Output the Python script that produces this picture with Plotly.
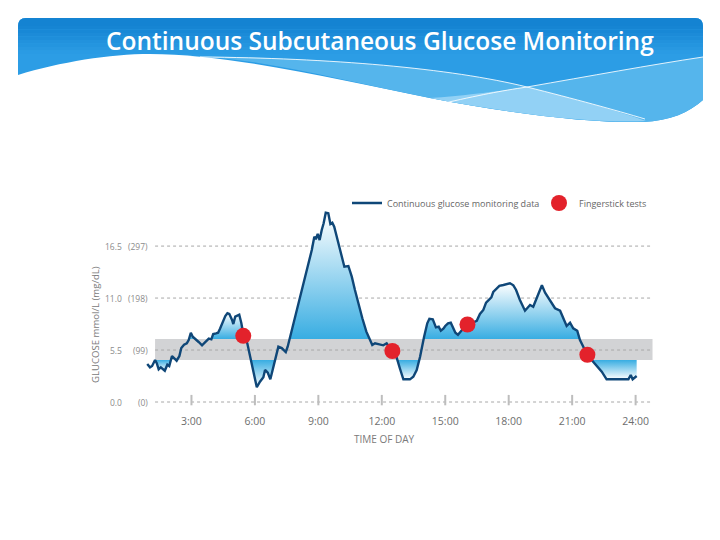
import plotly.graph_objects as go

# ---------------- data ----------------
hours = [0.91,1.04,1.14,1.28,1.36,1.45,1.55,1.64,1.74,1.86,
         1.95,2.08,2.21,2.30,2.43,2.52,2.65,2.78,2.87,2.97,
         3.06,3.18,3.34,3.50,3.59,3.72,3.82,3.94,4.03,4.16,
         4.26,4.35,4.44,4.51,4.60,4.70,4.79,4.92,4.98,5.07,
         5.17,5.26,5.36,5.45,5.64,5.80,5.92,6.09,6.24,6.40,
         6.48,6.61,6.73,6.82,6.95,7.11,7.27,7.46,7.55,7.71,
         7.90,8.09,8.29,8.50,8.69,8.81,8.88,8.97,9.06,9.16,
         9.25,9.35,9.47,9.57,9.66,9.75,9.92,10.07,10.23,10.42,
         10.58,10.73,10.89,11.08,11.27,11.44,11.55,11.68,11.87,12.07,
         12.23,12.50,12.70,12.86,13.02,13.33,13.49,13.65,13.81,14.00,
         14.15,14.25,14.41,14.56,14.69,14.79,14.91,15.00,15.13,15.26,
         15.35,15.48,15.60,15.79,16.04,16.49,16.64,16.80,16.93,17.05,
         17.18,17.27,17.43,17.56,17.75,18.06,18.22,18.35,18.53,18.77,
         19.01,19.16,19.35,19.57,19.72,19.95,20.19,20.43,20.62,20.74,
         20.90,21.05,21.24,21.37,21.72,22.08,22.40,22.63,23.66,23.77,
         23.86,24.05]
glucose = [4.02,3.67,3.81,4.44,4.10,3.46,3.67,3.52,3.31,3.95,
           3.81,4.87,4.58,4.37,4.87,5.71,6.06,6.21,6.56,7.33,
           6.91,6.63,6.35,6.00,6.21,6.49,6.70,6.63,7.20,7.27,
           7.33,7.76,8.25,8.75,9.10,9.39,9.31,8.68,8.25,9.03,
           9.17,9.24,8.33,7.20,6.21,4.44,3.04,1.56,2.15,2.61,
           3.39,3.10,2.40,3.17,4.52,5.85,5.71,5.29,5.85,7.27,
           9.03,10.79,12.56,14.32,16.08,17.49,17.22,17.78,17.14,18.20,
           18.91,20.03,19.97,18.84,18.97,18.55,17.14,15.90,14.32,14.39,
           13.26,11.85,10.44,8.86,7.44,6.56,6.03,6.21,6.14,6.00,
           6.21,5.37,4.73,3.52,2.40,2.40,2.68,3.39,4.79,6.91,
           8.33,8.81,8.75,7.90,7.97,7.54,7.76,8.04,8.33,8.39,
           7.90,7.33,7.12,7.62,8.15,8.60,9.31,9.74,10.51,10.79,
           11.08,11.64,11.99,12.28,12.38,12.56,12.35,11.85,10.79,9.66,
           10.26,10.08,11.14,12.35,11.57,10.79,9.92,9.66,8.68,8.04,
           8.39,7.80,7.54,6.56,4.97,4.10,3.21,2.40,2.40,2.86,
           2.40,2.75]

fingerstick_hours = [5.45, 12.50, 16.05, 21.72]
fingerstick_glucose = [7.0, 5.4, 8.2, 5.0]

target_low = 4.44
target_high = 6.67
target_start = 1.28
target_end = 24.8

ytick_vals = [0, 5.5, 11.0, 16.5]
ytick_mmol = ["0.0", "5.5", "11.0", "16.5"]
ytick_mgdl = ["(0)", "(99)", "(198)", "(297)"]

xtick_vals = [3, 6, 9, 12, 15, 18, 21, 24]
xtick_text = ["3:00", "6:00", "9:00", "12:00", "15:00", "18:00", "21:00", "24:00"]

# ---------------- geometry (screen pixels; page body has an 8px offset) ----------------
W, H = 720, 540
OFF = 8
X0PX, XPPH = 128.0, 21.15     # screen pixel of hour 0, pixels per hour
Y0PX, YPPV = 402.0, 9.45      # screen pixel of glucose 0, pixels per mmol/L
L, R, T, B = 136, 661, 203, 413   # plot area in screen pixels
xr = [(L - X0PX) / XPPH, (R - X0PX) / XPPH]
yr = [(Y0PX - B) / YPPV, (Y0PX - T) / YPPV]


def xp(px):
    return (px - L) / (R - L)


def yp(py):
    return (B - py) / (B - T)


def path(cmds):
    s = ""
    for c, pts in cmds:
        s += c + " ".join(f"{xp(x):.5f},{yp(y):.5f}" for x, y in pts) + " "
    return s.strip()


BLUE = "#38ade2"
WHITE = "#ffffff"
LINE = "#0f4778"
RED = "#e3222b"
GREY_TXT = "#7a7a7a"
FONT = "Open Sans"

# clip the glucose trace to the target band x-range for fills
cx, cy = [], []
for i in range(len(hours)):
    if hours[i] < target_start:
        if i + 1 < len(hours) and hours[i + 1] > target_start:
            t = (target_start - hours[i]) / (hours[i + 1] - hours[i])
            cx.append(target_start)
            cy.append(glucose[i] + t * (glucose[i + 1] - glucose[i]))
        continue
    if hours[i] > target_end:
        continue
    cx.append(hours[i])
    cy.append(glucose[i])


def runs(px, py, level, above):
    out, cur = [], None

    def inside(v):
        return v > level if above else v < level

    for i in range(len(px)):
        x, y = px[i], py[i]
        if inside(y):
            if cur is None:
                if i == 0:
                    cur = [(x, level)]
                else:
                    xa, ya = px[i - 1], py[i - 1]
                    cur = [(xa + (level - ya) * (x - xa) / (y - ya), level)]
            cur.append((x, y))
        else:
            if cur is not None:
                xa, ya = px[i - 1], py[i - 1]
                cur.append((xa + (level - ya) * (x - xa) / (y - ya), level))
                out.append(cur)
                cur = None
    if cur is not None:
        cur.append((px[-1], level))
        out.append(cur)
    return out


fig = go.Figure()

for seg in runs(cx, cy, target_high, True):
    peak = max(p[1] for p in seg)
    fig.add_trace(go.Scatter(
        x=[p[0] for p in seg], y=[p[1] for p in seg], fill="toself", mode="lines",
        line=dict(width=0), hoverinfo="skip", showlegend=False,
        fillgradient=dict(type="vertical", colorscale=[[0, BLUE], [1, WHITE]],
                          start=target_high, stop=peak)))

for seg in runs(cx, cy, target_low, False):
    low = min(p[1] for p in seg)
    fig.add_trace(go.Scatter(
        x=[p[0] for p in seg], y=[p[1] for p in seg], fill="toself", mode="lines",
        line=dict(width=0), hoverinfo="skip", showlegend=False,
        fillgradient=dict(type="vertical", colorscale=[[0, WHITE], [1, BLUE]],
                          start=low, stop=target_low)))

fig.add_trace(go.Scatter(
    x=hours, y=glucose, mode="lines", name="Continuous glucose monitoring data",
    line=dict(color=LINE, width=2.4)))

fig.add_trace(go.Scatter(
    x=fingerstick_hours, y=fingerstick_glucose, mode="markers", name="Fingerstick tests",
    marker=dict(color=RED, size=16, line=dict(width=0))))

shapes = []
# target band
shapes.append(dict(type="rect", xref="x", yref="y", x0=target_start, x1=target_end,
                   y0=target_low, y1=target_high, fillcolor="#d2d3d5",
                   line=dict(width=0), layer="below"))
# dotted grid lines
for v in ytick_vals:
    shapes.append(dict(type="line", xref="x", yref="y", x0=target_start, x1=target_end,
                       y0=v, y1=v, line=dict(color="#a8a8a8", width=1, dash="dot"),
                       layer="below"))
# tick marks on the zero line
for h in xtick_vals:
    shapes.append(dict(type="line", xref="x", yref="y", x0=h, x1=h, y0=-0.35, y1=0.75,
                       line=dict(color="#bdbdbd", width=2), layer="below"))

# ---------- header banner ----------
base_col = "#2c9de5"
shapes.append(dict(type="path", xref="paper", yref="paper", layer="above",
                   fillcolor=base_col, line=dict(width=0),
                   path=path([("M", [(18, 26)]), ("Q", [(18, 18), (26, 18)]),
                              ("L", [(695, 18)]), ("Q", [(703, 18), (703, 26)]),
                              ("L", [(703, 100)]),
                              ("C", [(690, 112), (670, 121), (643, 122)]),
                              ("C", [(590, 123), (520, 115), (430, 98)]),
                              ("C", [(340, 80), (230, 54), (150, 54)]),
                              ("C", [(110, 54), (60, 62), (18, 75)]),
                              ("Z", [])])))
c_top = (0x14, 0x83, 0xd2)
c_bot = (0x2c, 0x9d, 0xe5)
shapes.append(dict(type="path", xref="paper", yref="paper", layer="above",
                   fillcolor="#1483d2", line=dict(width=0),
                   path=path([("M", [(18, 26.5)]), ("Q", [(18, 18), (26, 18)]),
                              ("L", [(695, 18)]), ("Q", [(703, 18), (703, 26.5)]),
                              ("Z", [])])))
nstrip = 8
for k in range(nstrip):
    y0 = 26 + k * 3.5
    f = (k + 0.5) / nstrip
    col = "#%02x%02x%02x" % tuple(int(round(a + (b - a) * f)) for a, b in zip(c_top, c_bot))
    shapes.append(dict(type="rect", xref="paper", yref="paper", layer="above",
                       x0=xp(18), x1=xp(703), y0=yp(y0 + 3.6), y1=yp(y0),
                       fillcolor=col, line=dict(width=0)))
shapes.append(dict(type="path", xref="paper", yref="paper", layer="above",
                   fillcolor="#55b5ec", line=dict(width=0),
                   path=path([("M", [(190, 56)]),
                              ("C", [(330, 58), (450, 68), (527, 87)]),
                              ("C", [(590, 76), (650, 65), (703, 57)]),
                              ("L", [(703, 100)]),
                              ("C", [(690, 112), (670, 121), (643, 122)]),
                              ("C", [(590, 123), (520, 115), (430, 98)]),
                              ("C", [(340, 80), (260, 58), (190, 56)]),
                              ("Z", [])])))
shapes.append(dict(type="path", xref="paper", yref="paper", layer="above",
                   fillcolor="#92d1f5", line=dict(width=0),
                   path=path([("M", [(430, 98)]),
                              ("C", [(470, 95), (500, 91), (527, 87)]),
                              ("C", [(575, 99), (615, 110), (646, 121)]),
                              ("C", [(590, 123), (520, 115), (430, 98)]),
                              ("Z", [])])))
shapes.append(dict(type="path", xref="paper", yref="paper", layer="above",
                   line=dict(color="rgba(255,255,255,0.85)", width=1),
                   path=path([("M", [(200, 57)]),
                              ("C", [(330, 58), (450, 68), (527, 87)]),
                              ("C", [(575, 99), (615, 110), (645, 119)])])))
shapes.append(dict(type="path", xref="paper", yref="paper", layer="above",
                   line=dict(color="rgba(255,255,255,0.85)", width=1),
                   path=path([("M", [(440, 104)]),
                              ("C", [(480, 95), (500, 91), (527, 87)]),
                              ("C", [(590, 76), (650, 65), (703, 57)])])))

annotations = []
annotations.append(dict(text="Continuous Subcutaneous Glucose Monitoring",
                        xref="paper", yref="paper", x=xp(380), y=yp(40),
                        xanchor="center", yanchor="middle", showarrow=False,
                        font=dict(family=FONT, size=24.5, color="white", weight=600)))
for v, a, b in zip(ytick_vals, ytick_mmol, ytick_mgdl):
    yy = yp(Y0PX - YPPV * v)
    annotations.append(dict(text=a, xref="paper", yref="paper", x=xp(124), y=yy,
                            xanchor="right", yanchor="middle", showarrow=False,
                            font=dict(family=FONT, size=8.5, color="#8c8c8c")))
    annotations.append(dict(text=b, xref="paper", yref="paper", x=xp(150), y=yy,
                            xanchor="right", yanchor="middle", showarrow=False,
                            font=dict(family=FONT, size=8.5, color="#8c8c8c")))
annotations.append(dict(text="GLUCOSE mmol/L (mg/dL)", xref="paper", yref="paper",
                        x=xp(95), y=yp(325), textangle=-90, xanchor="center",
                        yanchor="middle", showarrow=False,
                        font=dict(family=FONT, size=9.6, color=GREY_TXT)))
annotations.append(dict(text="TIME OF DAY", xref="paper", yref="paper",
                        x=xp(384), y=yp(439), xanchor="center", yanchor="middle",
                        showarrow=False, font=dict(family=FONT, size=10, color=GREY_TXT)))

fig.update_layout(
    width=W, height=H,
    margin=dict(l=L - OFF, r=W - (R - OFF), t=T - OFF, b=H - (B - OFF), autoexpand=False),
    paper_bgcolor="white", plot_bgcolor="white",
    showlegend=True,
    legend=dict(orientation="h", x=xp(347), xanchor="left", y=yp(203), yanchor="middle",
                font=dict(family=FONT, size=9, color="#666666"),
                bgcolor="rgba(0,0,0,0)", itemwidth=30,
                entrywidth=147, entrywidthmode="pixels"),
    xaxis=dict(range=xr, showgrid=False, zeroline=False, showline=False,
               tickvals=xtick_vals, ticktext=xtick_text, ticks="",
               tickfont=dict(family=FONT, size=10.5, color="#6e6e6e"), fixedrange=True),
    yaxis=dict(range=yr, showgrid=False, zeroline=False, showline=False,
               showticklabels=False, ticks="", fixedrange=True),
    shapes=shapes, annotations=annotations,
    hovermode=False,
)

fig.write_html("out.html")
